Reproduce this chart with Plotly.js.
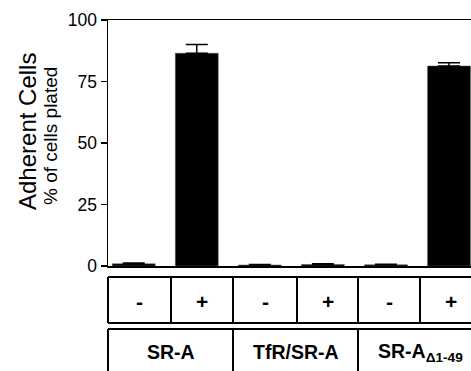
<!DOCTYPE html>
<html>
<head>
<meta charset="utf-8">
<script src="https://cdn.plot.ly/plotly-3.0.1.min.js"></script>
<style>html,body{margin:0;padding:0;background:#fff;}#chart{width:471px;height:371px;}</style>
</head>
<body>
<div id="chart"></div>
<script>
// Data
const treatments = ['-', '+', '-', '+', '-', '+'];
const groups = ['SR-A', 'TfR/SR-A', 'SR-A<sub>Δ1-49</sub>'];
const adherent = [0.9, 86.5, 0.4, 0.6, 0.5, 81.3];
const sem = [0.3, 3.5, 0.2, 0.3, 0.2, 1.3];
const yTicks = [0, 25, 50, 75, 100];

const W = 471, H = 371;
const L = 108, R = 0, T = 20, B = 105;
const pw = W - L - R, ph = H - T - B;
const px = x => (x - L) / pw;
const py = y => (H - B - y) / ph;

const xs = treatments.map((_, i) => i);

const trace = {
  type: 'bar',
  x: xs,
  y: adherent,
  width: 0.68,
  marker: {color: '#000', line: {color: '#555', width: 0.5}},
  error_y: {type: 'data', array: sem, arrayminus: sem.map(() => 0), symmetric: false,
            color: '#000', thickness: 1.5, width: 11},
  hoverinfo: 'none'
};

// table geometry (pixels)
const cellEdges = [108, 171, 233, 297, 358, 420, 482];
const groupEdges = [108, 233, 358, 482];
const row1Top = 277, row1Bot = 323, row2Top = 329, row2Bot = 380;
const lw = 2;
const shapes = [];
const line = (x0, y0, x1, y1) => shapes.push({type: 'line', xref: 'paper', yref: 'paper',
  x0: px(x0), y0: py(y0), x1: px(x1), y1: py(y1), line: {color: '#000', width: lw}});
line(108, row1Top, 490, row1Top);
line(108, row1Bot, 490, row1Bot);
cellEdges.forEach(e => line(e, row1Top, e, row1Bot));
line(108, row2Top, 490, row2Top);
groupEdges.forEach(e => line(e, row2Top, e, row2Bot));

const annotations = [];
treatments.forEach((t, i) => {
  annotations.push({xref: 'paper', yref: 'paper', x: px((cellEdges[i] + cellEdges[i + 1]) / 2), y: py(301),
    text: '<b>' + t + '</b>', showarrow: false, xanchor: 'center', yanchor: 'middle',
    font: {family: 'Liberation Sans, Arial, sans-serif', size: 21, color: '#000'}});
});
groups.forEach((g, i) => {
  annotations.push({xref: 'paper', yref: 'paper', x: px((groupEdges[i] + groupEdges[i + 1]) / 2), y: py(352),
    text: '<b>' + g + '</b>', showarrow: false, xanchor: 'center', yanchor: 'middle',
    font: {family: 'Liberation Sans, Arial, sans-serif', size: 19.5, color: '#000'}});
});
annotations.push({xref: 'paper', yref: 'paper', x: px(27), y: py(132), text: 'Adherent Cells',
  textangle: -90, showarrow: false, xanchor: 'center', yanchor: 'middle',
  font: {family: 'Liberation Sans, Arial, sans-serif', size: 24, color: '#000'}});
annotations.push({xref: 'paper', yref: 'paper', x: px(50), y: py(136), text: '% of cells plated',
  textangle: -90, showarrow: false, xanchor: 'center', yanchor: 'middle',
  font: {family: 'Liberation Sans, Arial, sans-serif', size: 19, color: '#000'}});

const layout = {
  width: W, height: H,
  margin: {l: L, r: R, t: T, b: B, pad: 0},
  paper_bgcolor: '#fff', plot_bgcolor: '#fff',
  showlegend: false,
  xaxis: {range: [-0.408, 5.349], showticklabels: false, ticks: '', showgrid: false, zeroline: false,
          showline: true, mirror: true, linecolor: '#000', linewidth: 1.5, fixedrange: true},
  yaxis: {range: [0, 100], tickvals: yTicks, ticktext: yTicks.map(String), ticks: 'outside', ticklen: 6,
          tickwidth: 1.5, tickcolor: '#000', showgrid: false, zeroline: false, showline: true,
          linecolor: '#000', linewidth: 1.5,
          tickfont: {family: 'Liberation Sans, Arial, sans-serif', size: 17.5, color: '#000'}, fixedrange: true},
  shapes: shapes,
  annotations: annotations,
  bargap: 0
};

Plotly.newPlot('chart', [trace], layout, {displayModeBar: false, staticPlot: true});
</script>
</body>
</html>
